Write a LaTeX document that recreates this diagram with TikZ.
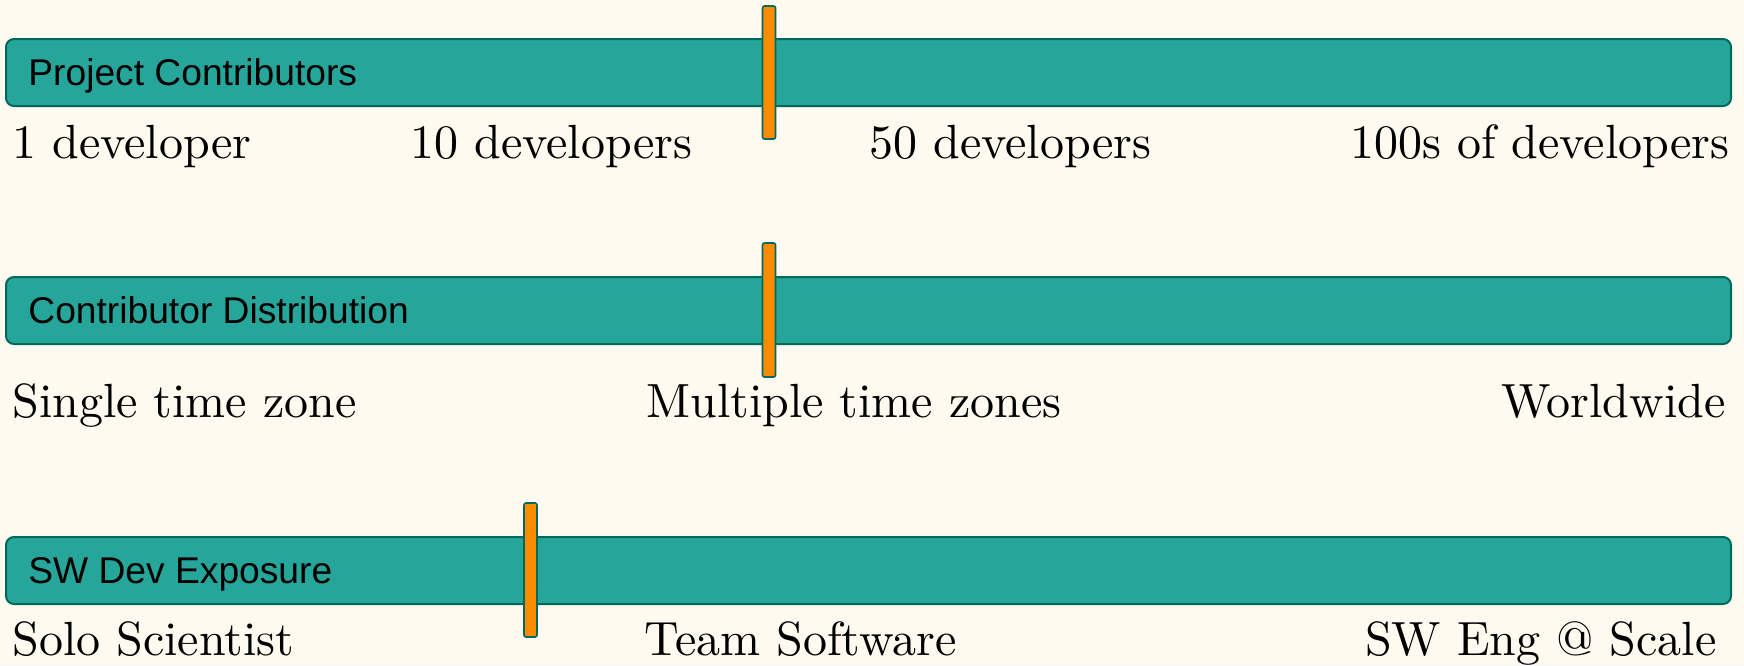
\documentclass[tikz,border=0pt]{standalone}
\usepackage{fontspec}
\setmainfont{lmroman10-regular.otf}
\newfontfamily\barfont{Liberation Sans}
\usetikzlibrary{calc}
\definecolor{paper}{HTML}{FFFAF0}
\definecolor{barteal}{HTML}{26A69A}
\definecolor{baredge}{HTML}{00695C}
\definecolor{pinorange}{HTML}{FB8C00}

\begin{document}
\begin{tikzpicture}[x=0.5pt, y=-0.5pt,
	track/.style={draw=baredge, fill=barteal, line width=1pt, rounded corners=4pt},
	marker/.style={draw=baredge, fill=pinorange, line width=0.8pt, rounded corners=1pt},
	bartext/.style={anchor=base west, inner sep=0pt, font=\barfont\fontsize{18.6pt}{22pt}\selectfont},
	lab/.style={inner sep=0pt, font=\fontsize{24pt}{28pt}\selectfont}]
	\fill[paper] (0,0) rectangle (1744,665);
	\useasboundingbox (0,0) rectangle (1744,665);
	% project contributors
	\coordinate (A1) at (6,39);
	\coordinate (B1) at (1731,106);
	\draw[track] (A1) rectangle (B1);
	\node[bartext] (T1) at (28,85) {Project Contributors};
	\draw[marker] (762.5,6) rectangle (775.5,139);
	\node[lab, anchor=base west] (L11) at (12,158) {1 developer};
	\node[lab, anchor=base west] (L12) at (410,158) {10 developers};
	\node[lab, anchor=base west] (L13) at (869,158) {50 developers};
	\node[lab, anchor=base east] (L14) at (1730,158) {100s of developers};
	% contributor distribution
	\coordinate (A2) at (6,277);
	\coordinate (B2) at (1731,344);
	\draw[track] (A2) rectangle (B2);
	\node[bartext] (T2) at (28,323) {Contributor Distribution};
	\draw[marker] (762.5,243) rectangle (775.5,377);
	\node[lab, anchor=base west] (L21) at (12,417) {Single time zone};
	\node[lab, anchor=base west] (L22) at (646,417) {Multiple time zones};
	\node[lab, anchor=base east] (L23) at (1726,417) {Worldwide};
	% sw dev exposure
	\coordinate (A3) at (6,537);
	\coordinate (B3) at (1731,604);
	\draw[track] (A3) rectangle (B3);
	\node[bartext] (T3) at (28,583) {SW Dev Exposure};
	\draw[marker] (524,503) rectangle (537,637);
	\node[lab, anchor=base west] (L31) at (12,655) {Solo Scientist};
	\node[lab, anchor=base west] (L32) at (644,655) {Team Software};
	\node[lab, anchor=base east] (L33) at (1717,655) {SW Eng @ Scale};
\end{tikzpicture}
\end{document}
